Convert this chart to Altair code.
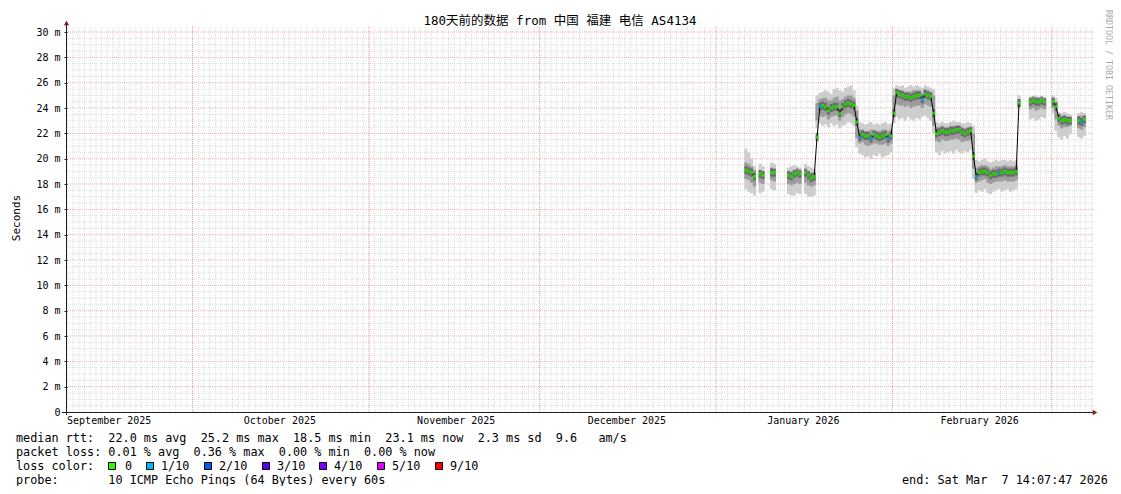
import altair as alt
import pandas as pd

NB = "\u00a0"
MONO = "DejaVu Sans Mono"

# ---------------- data (12-hour bins, bin centres, UTC) ----------------
bin_time = [
    "2026-01-06T06:00:00Z", "2026-01-06T18:00:00Z", "2026-01-07T06:00:00Z", "2026-01-07T18:00:00Z",
    "2026-01-08T18:00:00Z", "2026-01-09T06:00:00Z",
    "2026-01-10T18:00:00Z", "2026-01-11T06:00:00Z",
    "2026-01-13T18:00:00Z", "2026-01-14T06:00:00Z", "2026-01-14T18:00:00Z", "2026-01-15T06:00:00Z",
    "2026-01-15T18:00:00Z",
    "2026-01-16T18:00:00Z", "2026-01-17T06:00:00Z", "2026-01-17T18:00:00Z", "2026-01-18T06:00:00Z",
    "2026-01-18T18:00:00Z",
    "2026-01-19T06:00:00Z", "2026-01-19T18:00:00Z", "2026-01-20T06:00:00Z", "2026-01-20T18:00:00Z",
    "2026-01-21T06:00:00Z", "2026-01-21T18:00:00Z", "2026-01-22T06:00:00Z", "2026-01-22T18:00:00Z",
    "2026-01-23T06:00:00Z", "2026-01-23T18:00:00Z", "2026-01-24T06:00:00Z", "2026-01-24T18:00:00Z",
    "2026-01-25T06:00:00Z",
    "2026-01-25T18:00:00Z",
    "2026-01-26T06:00:00Z", "2026-01-26T18:00:00Z", "2026-01-27T06:00:00Z", "2026-01-27T18:00:00Z",
    "2026-01-28T06:00:00Z", "2026-01-28T18:00:00Z", "2026-01-29T06:00:00Z", "2026-01-29T18:00:00Z",
    "2026-01-30T06:00:00Z", "2026-01-30T18:00:00Z", "2026-01-31T06:00:00Z", "2026-01-31T18:00:00Z",
    "2026-02-01T06:00:00Z",
    "2026-02-01T18:00:00Z", "2026-02-02T06:00:00Z", "2026-02-02T18:00:00Z", "2026-02-03T06:00:00Z",
    "2026-02-03T18:00:00Z", "2026-02-04T06:00:00Z", "2026-02-04T18:00:00Z", "2026-02-05T06:00:00Z",
    "2026-02-05T18:00:00Z", "2026-02-06T06:00:00Z", "2026-02-06T18:00:00Z", "2026-02-07T06:00:00Z",
    "2026-02-07T18:00:00Z",
    "2026-02-08T06:00:00Z",
    "2026-02-08T18:00:00Z", "2026-02-09T06:00:00Z", "2026-02-09T18:00:00Z", "2026-02-10T06:00:00Z",
    "2026-02-10T18:00:00Z", "2026-02-11T06:00:00Z", "2026-02-11T18:00:00Z", "2026-02-12T06:00:00Z",
    "2026-02-12T18:00:00Z", "2026-02-13T06:00:00Z", "2026-02-13T18:00:00Z", "2026-02-14T06:00:00Z",
    "2026-02-14T18:00:00Z",
    "2026-02-15T06:00:00Z",
    "2026-02-15T18:00:00Z", "2026-02-16T06:00:00Z", "2026-02-16T18:00:00Z", "2026-02-17T06:00:00Z",
    "2026-02-17T18:00:00Z", "2026-02-18T06:00:00Z", "2026-02-18T18:00:00Z", "2026-02-19T06:00:00Z",
    "2026-02-19T18:00:00Z", "2026-02-20T06:00:00Z", "2026-02-20T18:00:00Z", "2026-02-21T06:00:00Z",
    "2026-02-21T18:00:00Z", "2026-02-22T06:00:00Z", "2026-02-22T18:00:00Z",
    "2026-02-23T06:00:00Z",
    "2026-02-25T06:00:00Z", "2026-02-25T18:00:00Z", "2026-02-26T06:00:00Z", "2026-02-26T18:00:00Z",
    "2026-02-27T06:00:00Z", "2026-02-27T18:00:00Z",
    "2026-03-01T06:00:00Z", "2026-03-01T18:00:00Z", "2026-03-02T06:00:00Z", "2026-03-02T18:00:00Z",
    "2026-03-03T06:00:00Z", "2026-03-03T18:00:00Z", "2026-03-04T06:00:00Z",
    "2026-03-05T18:00:00Z", "2026-03-06T06:00:00Z", "2026-03-06T18:00:00Z",
]

# median rtt (ms)
med = [
    19.1, 19.0, 18.9, 18.6,
    18.8, 18.7,
    18.9, 18.9,
    18.7, 18.6, 18.8, 18.9, 18.8,
    18.9, 18.7, 18.5, 18.6,
    21.7,
    24.1, 24.2, 24.1, 23.8, 24.0, 24.1, 24.1, 23.6, 24.1, 24.3, 24.4, 24.3, 24.2,
    22.9,
    21.7, 21.9, 21.8, 21.8, 21.6, 21.9, 21.8, 21.7, 21.8, 21.9, 21.6, 21.8,
    23.6,
    25.2, 25.1, 25.0, 24.9, 24.9, 24.8, 24.9, 25.0, 25.0, 24.7, 25.1, 25.0, 24.9,
    23.6,
    22.0, 22.1, 22.2, 22.1, 22.1, 22.2, 22.2, 22.3, 22.3, 22.1, 22.0, 22.1, 22.2,
    20.2,
    18.6, 18.9, 19.0, 19.0, 18.9, 18.7, 18.8, 18.8, 18.9, 18.9, 19.0, 18.9, 18.9, 18.9, 19.0,
    24.4,
    24.5, 24.6, 24.5, 24.5, 24.6, 24.5,
    24.5, 24.1, 23.2, 23.0, 23.1, 23.0, 23.0,
    23.0, 22.9, 23.1,
]

# smoke: outer band (lowest / highest ping)
lo = [
    17.6, 17.4, 17.3, 17.1,
    17.3, 17.4,
    17.6, 17.5,
    17.2, 17.1, 17.1, 17.3, 17.2,
    17.2, 17.0, 17.0, 17.1,
    22.4,
    22.8, 22.6, 22.7, 22.5, 22.8, 22.6, 22.7, 22.4, 22.6, 22.7, 22.9, 22.8, 22.6,
    20.9,
    20.4, 20.3, 20.1, 20.2, 20.0, 20.3, 20.2, 20.4, 20.1, 20.2, 20.3, 20.5,
    22.8,
    23.3, 23.1, 23.2, 23.0, 23.3, 23.1, 23.0, 23.2, 23.1, 23.3, 23.4, 23.2, 23.0,
    22.0,
    20.5, 20.3, 20.6, 20.4, 20.5, 20.6, 20.4, 20.7, 20.5, 20.4, 20.6, 20.5, 20.7,
    18.4,
    17.3, 17.5, 17.4, 17.6, 17.3, 17.2, 17.4, 17.5, 17.6, 17.4, 17.5, 17.6, 17.4, 17.5, 17.6,
    23.9,
    23.1, 23.2, 23.0, 23.1, 23.3, 23.2,
    23.6, 22.2, 21.7, 21.5, 21.8, 21.6, 21.9,
    21.7, 21.6, 21.8,
]
hi = [
    20.8, 20.5, 20.0, 19.4,
    19.6, 19.4,
    19.7, 19.6,
    19.3, 19.4, 19.5, 19.4, 19.3,
    19.6, 19.4, 19.3, 19.2,
    25.0,
    25.2, 25.3, 25.4, 25.3, 25.1, 25.5, 25.6, 25.4, 25.3, 25.6, 25.7, 25.8, 25.4,
    24.2,
    22.9, 22.8, 22.7, 22.8, 22.9, 22.7, 22.8, 22.7, 22.8, 22.9, 22.7, 22.8,
    25.6,
    25.8, 25.7, 25.8, 25.6, 25.7, 25.8, 25.7, 25.8, 25.7, 25.6, 25.8, 25.7, 25.6,
    25.5,
    22.9, 22.8, 22.9, 22.8, 22.8, 22.9, 23.0, 22.9, 22.9, 22.8, 22.8, 22.9, 22.8,
    22.6,
    19.9, 19.8, 19.9, 20.0, 19.8, 19.7, 19.8, 19.9, 19.8, 19.9, 19.9, 19.8, 19.9, 19.8, 19.9,
    25.0,
    24.9, 24.9, 25.0, 24.9, 24.9, 24.8,
    25.0, 24.8, 23.7, 23.6, 23.7, 23.6, 23.5,
    23.6, 23.7, 23.6,
]
# smoke: inner band
lo2 = [
    18.4, 18.3, 18.1, 17.8,
    18.1, 18.0,
    18.3, 18.2,
    18.0, 17.9, 18.0, 18.1, 18.0,
    18.1, 17.9, 17.8, 17.9,
    23.0,
    23.4, 23.3, 23.4, 23.1, 23.3, 23.4, 23.4, 23.0, 23.3, 23.5, 23.6, 23.5, 23.3,
    21.6,
    21.2, 21.3, 21.1, 21.0, 21.1, 21.2, 21.2, 21.1, 21.1, 21.2, 21.0, 21.2,
    23.3,
    24.3, 24.2, 24.2, 24.1, 24.2, 24.0, 24.1, 24.2, 24.2, 24.0, 24.3, 24.2, 24.1,
    22.6,
    21.4, 21.3, 21.5, 21.4, 21.4, 21.5, 21.5, 21.6, 21.5, 21.3, 21.4, 21.4, 21.5,
    19.2,
    18.1, 18.2, 18.3, 18.4, 18.1, 18.0, 18.1, 18.2, 18.2, 18.2, 18.3, 18.2, 18.2, 18.2, 18.3,
    24.1,
    23.9, 24.0, 23.8, 23.9, 24.0, 23.9,
    24.0, 23.1, 22.6, 22.4, 22.5, 22.5, 22.6,
    22.4, 22.3, 22.5,
]
hi2 = [
    19.7, 19.6, 19.4, 19.1,
    19.1, 19.0,
    19.3, 19.2,
    19.0, 19.0, 19.1, 19.1, 19.0,
    19.1, 19.0, 18.9, 18.9,
    24.4,
    24.7, 24.8, 24.8, 24.6, 24.6, 24.8, 24.9, 24.6, 24.7, 24.9, 25.0, 25.0, 24.8,
    23.8,
    22.3, 22.3, 22.2, 22.2, 22.3, 22.3, 22.2, 22.2, 22.3, 22.3, 22.2, 22.3,
    25.0,
    25.5, 25.4, 25.4, 25.3, 25.3, 25.3, 25.4, 25.4, 25.4, 25.2, 25.5, 25.4, 25.3,
    25.0,
    22.5, 22.5, 22.6, 22.5, 22.5, 22.6, 22.6, 22.6, 22.6, 22.5, 22.4, 22.5, 22.5,
    22.0,
    19.3, 19.4, 19.5, 19.5, 19.4, 19.2, 19.3, 19.4, 19.4, 19.4, 19.5, 19.4, 19.4, 19.4, 19.5,
    24.7,
    24.7, 24.7, 24.8, 24.7, 24.7, 24.7,
    24.8, 24.5, 23.5, 23.4, 23.4, 23.3, 23.3,
    23.4, 23.4, 23.3,
]
# packet loss per bin (in tenths)
loss = [
    0, 0, 0, 0,
    0, 0,
    0, 0,
    0, 0, 0, 0, 0,
    0, 0, 0, 0,
    0,
    1, 0, 0, 0, 0, 0, 0, 0, 0, 0, 0, 0, 0,
    0,
    1, 0, 0, 0, 1, 0, 0, 0, 0, 0, 1, 0,
    0,
    0, 0, 0, 0, 0, 0, 0, 0, 0, 1, 0, 0, 0,
    0,
    0, 0, 0, 0, 0, 0, 0, 0, 0, 0, 0, 0, 0,
    0,
    1, 0, 0, 0, 0, 0, 0, 0, 1, 0, 0, 0, 0, 0, 0,
    0,
    0, 0, 0, 0, 0, 0,
    0, 0, 0, 0, 0, 0, 0,
    0, 1, 0,
]

loss_levels = [0, 1, 2, 3, 4, 5, 9]
loss_labels = ["0", "1/10", "2/10", "3/10", "4/10", "5/10", "9/10"]
loss_colors = ["#26ff00", "#00b8ff", "#0059ff", "#5e00ff", "#7e00ff", "#dd00ff", "#ff0000"]

y_ticks = list(range(0, 31, 2))
month_starts = ["2025-10-01T00:00:00Z", "2025-11-01T00:00:00Z", "2025-12-01T00:00:00Z",
                "2026-01-01T00:00:00Z", "2026-02-01T00:00:00Z", "2026-03-01T00:00:00Z"]

title_text = "180天前的数据 from 中国 福建 电信 AS4134"
info_lines = [
    "median rtt:  22.0 ms avg  25.2 ms max  18.5 ms min  23.1 ms now  2.3 ms sd  9.6   am/s",
    "packet loss: 0.01 % avg  0.36 % max  0.00 % min  0.00 % now",
    "loss color:",
    "probe:       10 ICMP Echo Pings (64 Bytes) every 60s",
]
end_text = "end: Sat Mar  7 14:07:47 2026"

# ---------------- frames ----------------
df = pd.DataFrame({"t": bin_time, "med": med, "lo": lo, "hi": hi,
                   "lo2": lo2, "hi2": hi2, "loss": loss})
tt = pd.to_datetime(df["t"], utc=True)
fmt = "%Y-%m-%dT%H:%M:%SZ"
df["t0"] = (tt - pd.Timedelta(minutes=400)).dt.strftime(fmt)
df["t1"] = (tt + pd.Timedelta(minutes=400)).dt.strftime(fmt)
df["seg"] = (tt.diff() > pd.Timedelta(hours=13)).cumsum()

days = pd.date_range("2025-09-09", "2026-03-08", freq="D", tz="UTC")
day_strs = [d.strftime(fmt) for d in days]
day_grid = pd.DataFrame({"d": [d for d in day_strs if d not in month_starts]})
month_grid = pd.DataFrame({"d": month_starts})
minor_y = pd.DataFrame({"v": [i * 0.5 for i in range(1, 61) if i % 4 != 0]})
major_y = pd.DataFrame({"v": y_ticks[1:]})

xscale = alt.Scale(type="utc", domain=[
    alt.DateTime(year=2025, month=9, date=8, hours=22, minutes=8, utc=True),
    alt.DateTime(year=2026, month=3, date=8, hours=6, minutes=8, utc=True)])
yscale = alt.Scale(domain=[0, 30.4], nice=False, zero=True)

label_dates = [alt.DateTime(year=y, month=m, date=16, hours=6, utc=True)
               for y, m in [(2025, 9), (2025, 10), (2025, 11), (2025, 12), (2026, 1), (2026, 2)]]

xaxis = alt.Axis(values=label_dates, format="%B %Y", labelFont=MONO, labelFontSize=10,
                 labelColor="#000000", labelPadding=3, ticks=False, domain=False, grid=False,
                 title=None, labelOverlap=False, labelFlush=False, labelBound=False)
yaxis = alt.Axis(values=y_ticks,
                 labelExpr=f"datum.value == 0 ? '0{NB}{NB}' : datum.value + '{NB}m'",
                 labelFont=MONO, labelFontSize=10, labelColor="#000000", tickSize=3,
                 tickColor="#1f1f1f", labelPadding=4, domain=False, grid=False, title=None)


def X(field):
    return alt.X(field, scale=xscale, axis=xaxis)


def Y(field):
    return alt.Y(field, scale=yscale, axis=yaxis)


GRID = "#8f8f8f"
MGRID = "#de5050"

g_vminor = alt.Chart(day_grid).mark_rule(color=GRID, opacity=0.3, strokeDash=[1, 1]).encode(
    x=X("d:T"))
g_hminor = alt.Chart(minor_y).mark_rule(color=GRID, opacity=0.3, strokeDash=[1, 1]).encode(
    y=Y("v:Q"))
g_vmajor = alt.Chart(month_grid).mark_rule(color=MGRID, opacity=0.6, strokeDash=[1, 1]).encode(
    x=X("d:T"))
g_hmajor = alt.Chart(major_y).mark_rule(color=MGRID, opacity=0.45, strokeDash=[1, 1]).encode(
    y=Y("v:Q"))

base = alt.Chart(df)
smoke_outer = base.mark_rect(color="#cdcdcd").encode(x=X("t0:T"), x2="t1:T", y=Y("lo:Q"), y2="hi:Q")
smoke_inner = base.mark_rect(color="#9c9c9c").encode(x=X("t0:T"), x2="t1:T", y=Y("lo2:Q"), y2="hi2:Q")
smoke_core = base.mark_tick(orient="vertical", size=8, thickness=2.9, color="#555555").encode(
    x=X("t:T"), y=Y("med:Q"))
med_line = base.mark_line(color="#000000", strokeWidth=1).encode(
    x=X("t:T"), y=Y("med:Q"), detail="seg:N")
med_dots = base.mark_tick(orient="horizontal", size=3.2, thickness=3).encode(
    x=X("t:T"), y=Y("med:Q"),
    color=alt.Color("loss:N", scale=alt.Scale(domain=loss_levels, range=loss_colors), legend=None))

one = pd.DataFrame({"k": [0]})
AXC = "#1f1f1f"
ARROW = "#801f1f"
x_line = alt.Chart(one).mark_rule(color=AXC, strokeWidth=1).encode(
    x=alt.value(-5), x2=alt.value(1026), y=alt.value(385.5))
y_line = alt.Chart(one).mark_rule(color=AXC, strokeWidth=1).encode(
    x=alt.value(-0.5), y=alt.value(388), y2=alt.value(-2))
x_arrow = alt.Chart(one).mark_point(shape="triangle-right", filled=True, size=28, color=ARROW,
                                     opacity=1).encode(x=alt.value(1028), y=alt.value(385.5))
y_arrow = alt.Chart(one).mark_point(shape="triangle-up", filled=True, size=28, color=ARROW,
                                     opacity=1).encode(x=alt.value(-0.5), y=alt.value(-4))


def text_layer(txt, x, y, size, **kw):
    return alt.Chart(pd.DataFrame({"s": [txt]})).mark_text(
        fontSize=size, font=kw.pop("font", MONO), baseline="middle", **kw).encode(
        text="s:N", x=alt.value(x), y=alt.value(y))


title = text_layer(title_text, 493, -6, 12.5, font=f"{MONO}, Noto Sans CJK SC", align="center",
                   color="#000000")
ytitle = text_layer("Seconds", -50, 191, 11, align="center", angle=270, color="#000000")
rrd = text_layer("RRDTOOL / TOBI OETIKER", 1041, 38, 8.3, align="center", angle=90, color="#a8a8a8")

info = []
for i, line in enumerate(info_lines):
    info.append(text_layer(line.replace(" ", NB), -51, 411 + 14 * i, 11.8, align="left",
                           color="#000000"))
end_t = text_layer(end_text.replace(" ", NB), 835, 453, 11.8, align="left", color="#000000")

legend_df = pd.DataFrame({
    "lab": loss_labels, "col": loss_colors,
    "sx": [45, 83, 141, 199, 256, 314, 372],
    "lx": [58, 94, 152, 210, 267, 325, 383],
})
leg_sq = alt.Chart(legend_df).mark_square(size=49, opacity=1, stroke="#000000", strokeWidth=1,
                                          filled=True).encode(
    x=alt.X("sx:Q", scale=None), y=alt.value(439),
    fill=alt.Fill("col:N", scale=None))
leg_tx = alt.Chart(legend_df).mark_text(fontSize=11.8, font=MONO, align="left", baseline="middle",
                                        color="#000000").encode(
    x=alt.X("lx:Q", scale=None), y=alt.value(439), text="lab:N")

chart = alt.layer(
    g_vminor, g_hminor, g_vmajor, g_hmajor,
    smoke_outer, smoke_inner, smoke_core, med_line, med_dots,
    x_line, y_line, x_arrow, y_arrow,
    title, ytitle, rrd, *info, end_t, leg_sq, leg_tx,
).properties(
    width=1026, height=385,
    autosize=alt.AutoSizeParams(type="none"),
    padding={"left": 59, "top": 19, "right": 20, "bottom": 74},
    background="#ffffff",
).configure_view(strokeWidth=0)

chart.save("out.html", embed_options={"renderer": "svg", "actions": False})
